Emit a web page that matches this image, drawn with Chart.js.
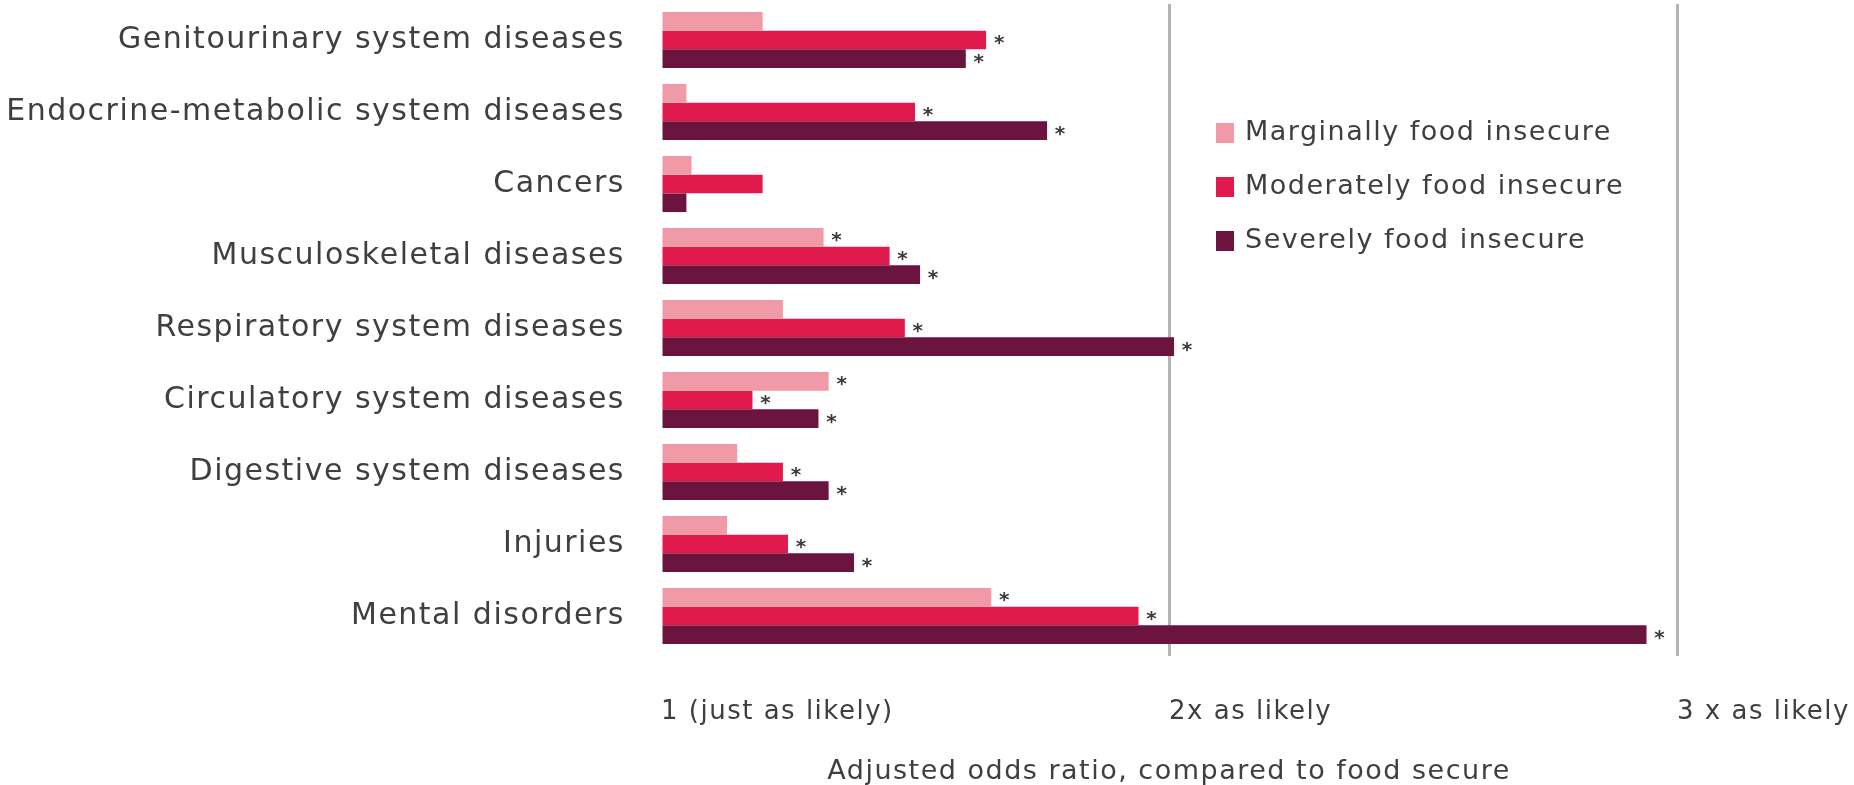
<!DOCTYPE html>
<html>
<head>
<meta charset="utf-8">
<script src="https://cdn.jsdelivr.net/npm/chart.js@4/dist/chart.umd.min.js"></script>
<style>
  html, body { margin: 0; padding: 0; background: #ffffff; }
  #wrap { width: 1854px; height: 785px; position: relative; }
</style>
</head>
<body>
<div id="wrap"><canvas id="c"></canvas></div>
<script>
const categories = [
  "Genitourinary system diseases",
  "Endocrine-metabolic system diseases",
  "Cancers",
  "Musculoskeletal diseases",
  "Respiratory system diseases",
  "Circulatory system diseases",
  "Digestive system diseases",
  "Injuries",
  "Mental disorders"
];
const seriesNames = ["Marginally food insecure", "Moderately food insecure", "Severely food insecure"];
const marginal = [1.20, 1.05, 1.06, 1.32, 1.24, 1.33, 1.15, 1.13, 1.65];
const moderate = [1.64, 1.50, 1.20, 1.45, 1.48, 1.18, 1.24, 1.25, 1.94];
const severe   = [1.60, 1.76, 1.05, 1.51, 2.01, 1.31, 1.33, 1.38, 2.94];
const sigMarginal = [false, false, false, true, false, true, false, false, true];
const sigModerate = [true, true, false, true, true, true, true, true, true];
const sigSevere   = [true, true, false, true, true, true, true, true, true];
const tickValues = [1, 2, 3];
const tickLabels = ["1 (just as likely)", "2x as likely", "3 x as likely"];
const axisTitle = "Adjusted odds ratio, compared to food secure";
const colors = ["#EF9AA6", "#E11A4E", "#6B1440"];

const FONT = "'DejaVu Sans', sans-serif";
const TEXT = "#3f3f3f";
const SPACING = '1.5px';

const sigs = [sigMarginal, sigModerate, sigSevere];

const spacingPlugin = {
  id: 'spacing',
  beforeDraw(chart) {
    if ('letterSpacing' in chart.ctx) chart.ctx.letterSpacing = SPACING;
  }
};

const asteriskPlugin = {
  id: 'asterisks',
  afterDatasetsDraw(chart) {
    const ctx = chart.ctx;
    ctx.save();
    if ('letterSpacing' in ctx) ctx.letterSpacing = '0px';
    ctx.fillStyle = "#3a3a3a";
    ctx.font = "bold 20px " + FONT;
    ctx.textAlign = "center";
    ctx.textBaseline = "middle";
    chart.data.datasets.forEach((ds, di) => {
      const meta = chart.getDatasetMeta(di);
      meta.data.forEach((el, i) => {
        if (sigs[di][i]) {
          ctx.fillText("*", el.x + 13, el.y + 4);
        }
      });
    });
    ctx.restore();
  }
};

const legendPlugin = {
  id: 'customLegend',
  afterDraw(chart) {
    const ctx = chart.ctx;
    ctx.save();
    if ('letterSpacing' in ctx) ctx.letterSpacing = SPACING;
    const x0 = 1216, y0 = 133, step = 54;
    ctx.font = "27px " + FONT;
    ctx.textBaseline = "middle";
    ctx.textAlign = "left";
    chart.data.datasets.forEach((ds, di) => {
      const y = y0 + di * step;
      ctx.fillStyle = ds.backgroundColor;
      ctx.fillRect(x0, y - 10, 18, 20);
      ctx.fillStyle = TEXT;
      ctx.fillText(ds.label, x0 + 29, y);
    });
    ctx.restore();
  }
};

new Chart(document.getElementById('c'), {
  type: 'bar',
  data: {
    labels: categories,
    datasets: [
      { label: seriesNames[0], data: marginal, backgroundColor: colors[0], base: 1 },
      { label: seriesNames[1], data: moderate, backgroundColor: colors[1], base: 1 },
      { label: seriesNames[2], data: severe,   backgroundColor: colors[2], base: 1 }
    ]
  },
  options: {
    indexAxis: 'y',
    responsive: true,
    maintainAspectRatio: false,
    animation: false,
    devicePixelRatio: 1,
    datasets: { bar: { categoryPercentage: 0.78, barPercentage: 1.0 } },
    layout: { padding: { top: 4, right: 177, bottom: 0, left: 0 } },
    plugins: {
      legend: { display: false },
      tooltip: { enabled: false }
    },
    scales: {
      x: {
        type: 'linear',
        min: 1,
        max: 3,
        afterBuildTicks(s) { s.ticks = tickValues.map(v => ({ value: v })); },
        afterFit(s) { s.height = 133; s.paddingLeft = 0; s.paddingRight = 0; },
        ticks: {
          align: 'start',
          padding: 41,
          color: TEXT,
          font: { family: FONT, size: 26 },
          callback: (v) => tickLabels[tickValues.indexOf(v)]
        },
        grid: {
          color: (c) => (c.tick && c.tick.value === 1) ? 'rgba(0,0,0,0)' : '#b3b3b3',
          lineWidth: 3,
          drawTicks: true,
          tickLength: 4
        },
        border: { display: false },
        title: {
          display: true,
          text: axisTitle,
          color: TEXT,
          font: { family: FONT, size: 27, lineHeight: 1 },
          padding: { top: 0, bottom: 0 }
        }
      },
      y: {
        afterFit(s) { s.width = 661; s.paddingTop = 0; s.paddingBottom = 0; },
        ticks: {
          padding: 36,
          color: TEXT,
          font: { family: FONT, size: 30 }
        },
        grid: { display: false, drawTicks: false },
        border: { display: false }
      }
    }
  },
  plugins: [spacingPlugin, asteriskPlugin, legendPlugin]
});
</script>
</body>
</html>
